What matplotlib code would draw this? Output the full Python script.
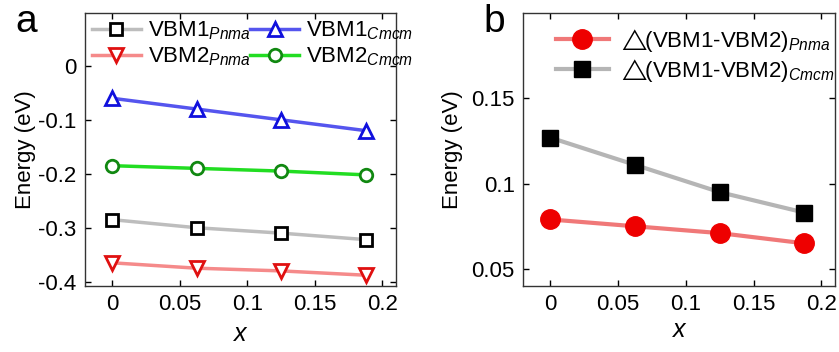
import matplotlib
matplotlib.use("Agg")
import matplotlib.pyplot as plt

plt.rcParams['font.family'] = ['Liberation Sans', 'DejaVu Sans']
plt.rcParams['mathtext.fontset'] = 'custom'
plt.rcParams['mathtext.rm'] = 'Liberation Sans'
plt.rcParams['mathtext.it'] = 'Liberation Sans:italic'
plt.rcParams['mathtext.fallback'] = 'stixsans'

x = [0, 0.0625, 0.125, 0.1875]
vbm1_pnma = [-0.285, -0.300, -0.310, -0.322]
vbm2_pnma = [-0.365, -0.375, -0.380, -0.388]
vbm1_cmcm = [-0.060, -0.080, -0.100, -0.120]
vbm2_cmcm = [-0.185, -0.190, -0.195, -0.202]
d_pnma = [0.079, 0.075, 0.071, 0.065]
d_cmcm = [0.127, 0.111, 0.095, 0.083]

fig = plt.figure(figsize=(8.39, 3.52), dpi=100)
axa = fig.add_axes([85/839, 1-286/352, (396-85)/839, (286-13)/352])
axb = fig.add_axes([523/839, 1-286/352, (835-523)/839, (286-13)/352])

ms = 9
mew = 2
lw = 2.5
axa.plot(x, vbm1_pnma, color='#bdbdbd', lw=lw, marker='s', ms=ms-1, mfc='white', mec='black', mew=mew,
         label='VBM1$_{\\mathit{Pnma}}$')
axa.plot(x, vbm2_pnma, color='#f58a8a', lw=lw, marker='v', ms=ms+1, mfc='white', mec='#e01010', mew=mew,
         label='VBM2$_{\\mathit{Pnma}}$')
axa.plot(x, vbm1_cmcm, color='#5555ee', lw=lw, marker='^', ms=ms+1, mfc='white', mec='#1010dd', mew=mew,
         label='VBM1$_{\\mathit{Cmcm}}$')
axa.plot(x, vbm2_cmcm, color='#22dd22', lw=lw, marker='o', ms=ms, mfc='white', mec='#118811', mew=mew,
         label='VBM2$_{\\mathit{Cmcm}}$')
axa.set_xlim(-0.02, 0.21)
axa.set_ylim(-0.408, 0.098)
axa.set_yticks([0, -0.1, -0.2, -0.3, -0.4])
axa.set_yticklabels(['0', '-0.1', '-0.2', '-0.3', '-0.4'])
axa.set_xticks([0, 0.05, 0.1, 0.15, 0.2])
axa.set_xticklabels(['0', '0.05', '0.1', '0.15', '0.2'])
axa.set_ylabel('Energy (eV)', fontsize=16, labelpad=2)
axa.set_xlabel('$x$', fontsize=18, labelpad=5)
axa.legend(ncol=2, loc='upper left', frameon=False, fontsize=16, handlelength=2.2,
           columnspacing=0.0, handletextpad=0.3, borderaxespad=0, borderpad=0,
           labelspacing=0.15, bbox_to_anchor=(0.0225, 0.975))
fig.text(15/839, 1-32/352, 'a', fontsize=28, va='baseline', ha='left')

axb.plot(x, d_pnma, color='#f07878', lw=3, marker='o', ms=14, mfc='#ee0000', mec='#ee0000',
         label='$\\triangle\\!\\!$(VBM1-VBM2)$_{\\mathit{Pnma}}$')
axb.plot(x, d_cmcm, color='#b5b5b5', lw=3, marker='s', ms=12, mfc='black', mec='black',
         label='$\\triangle\\!\\!$(VBM1-VBM2)$_{\\mathit{Cmcm}}$')
axb.set_xlim(-0.02, 0.21)
axb.set_ylim(0.04, 0.2)
axb.set_yticks([0.05, 0.1, 0.15])
axb.set_yticklabels(['0.05', '0.1', '0.15'])
axb.set_xticks([0, 0.05, 0.1, 0.15, 0.2])
axb.set_xticklabels(['0', '0.05', '0.1', '0.15', '0.2'])
axb.set_ylabel('Energy (eV)', fontsize=16, labelpad=6)
axb.set_xlabel('$x$', fontsize=18, labelpad=2)
axb.legend(loc='upper left', frameon=False, fontsize=16, handlelength=2.4,
           handletextpad=0.4, borderaxespad=0, borderpad=0, labelspacing=0.15,
           bbox_to_anchor=(0.105, 0.95))
fig.text(483/839, 1-32/352, 'b', fontsize=28, va='baseline', ha='left')

for ax in (axa, axb):
    ax.tick_params(direction='in', top=True, right=True, labelsize=16, length=4, width=1, pad=6)
    for s in ax.spines.values():
        s.set_linewidth(1.0)
        s.set_color('#333333')

fig.savefig('out.png', dpi=100)
